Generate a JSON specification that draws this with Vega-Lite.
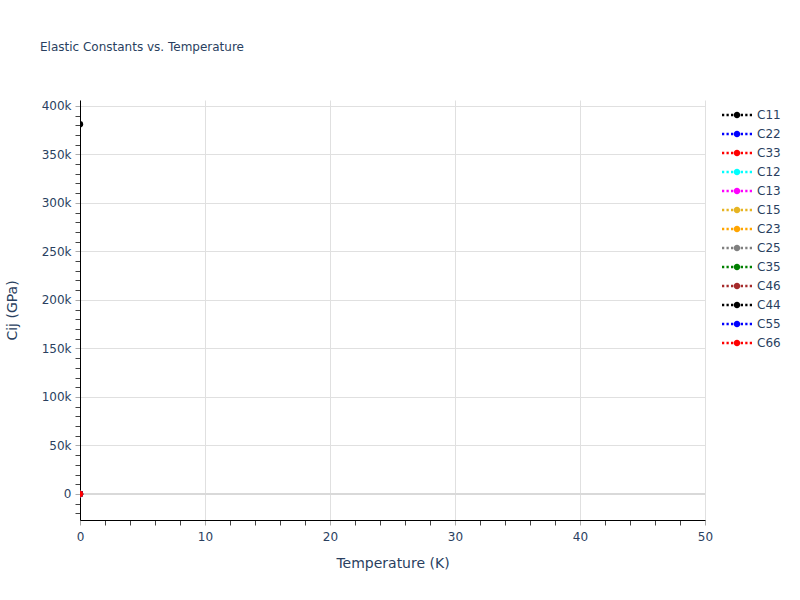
{
  "$schema": "https://vega.github.io/schema/vega-lite/v6.json",
  "width": 625,
  "height": 420,
  "autosize": "none",
  "padding": {"left": 80, "top": 100, "right": 95, "bottom": 80},
  "background": "white",
  "title": {
    "text": "Elastic Constants vs. Temperature",
    "anchor": "start",
    "frame": "group",
    "dx": -40,
    "offset": 46,
    "fontSize": 12,
    "fontWeight": "normal",
    "color": "#2a3f5f",
    "font": "DejaVu Sans"
  },
  "config": {
    "view": {"stroke": null},
    "font": "DejaVu Sans",
    "axis": {
      "labelColor": "#2a3f5f",
      "titleColor": "#2a3f5f",
      "labelFont": "DejaVu Sans",
      "titleFont": "DejaVu Sans",
      "labelFontSize": 12,
      "titleFontSize": 14,
      "titleFontWeight": "normal"
    }
  },
  "data": {
    "values": [
      {"T": 0, "comp": "C11", "Cij": 381000},
      {"T": 0, "comp": "C22", "Cij": 0},
      {"T": 0, "comp": "C33", "Cij": 0},
      {"T": 0, "comp": "C12", "Cij": 0},
      {"T": 0, "comp": "C13", "Cij": 0},
      {"T": 0, "comp": "C15", "Cij": 0},
      {"T": 0, "comp": "C23", "Cij": 0},
      {"T": 0, "comp": "C25", "Cij": 0},
      {"T": 0, "comp": "C35", "Cij": 0},
      {"T": 0, "comp": "C46", "Cij": 0},
      {"T": 0, "comp": "C44", "Cij": 0},
      {"T": 0, "comp": "C55", "Cij": 0},
      {"T": 0, "comp": "C66", "Cij": 0}
    ]
  },
  "resolve": {"axis": {"x": "independent", "y": "independent"}},
  "layer": [
    {
      "data": {"values": [{}]},
      "mark": {"type": "rule", "color": "#d9d9d9", "strokeWidth": 2},
      "encoding": {
        "y": {"datum": 0, "type": "quantitative", "axis": null}
      }
    },
    {
      "mark": {"type": "point", "opacity": 0},
      "encoding": {
        "x": {
          "field": "T",
          "type": "quantitative",
          "scale": {"domain": [0, 50], "nice": false, "zero": false},
          "axis": {
            "orient": "bottom",
            "values": [2, 4, 6, 8, 12, 14, 16, 18, 22, 24, 26, 28, 32, 34, 36, 38, 42, 44, 46, 48],
            "labels": false,
            "grid": false,
            "domain": false,
            "title": null,
            "tickSize": 5,
            "tickColor": "#444"
          }
        },
        "y": {
          "field": "Cij",
          "type": "quantitative",
          "scale": {"domain": [-26800, 406000], "nice": false, "zero": false},
          "axis": {
            "orient": "left",
            "values": [-20000, -10000, 10000, 20000, 30000, 40000, 60000, 70000, 80000, 90000, 110000, 120000, 130000, 140000, 160000, 170000, 180000, 190000, 210000, 220000, 230000, 240000, 260000, 270000, 280000, 290000, 310000, 320000, 330000, 340000, 360000, 370000, 380000, 390000],
            "labels": false,
            "grid": false,
            "domain": false,
            "title": null,
            "tickSize": 5,
            "tickColor": "#444"
          }
        }
      }
    },
    {
      "mark": {"type": "point", "filled": true, "opacity": 1, "size": 40, "clip": true},
      "encoding": {
        "x": {
          "field": "T",
          "type": "quantitative",
          "scale": {"domain": [0, 50], "nice": false, "zero": false},
          "axis": {
            "orient": "bottom",
            "values": [0, 10, 20, 30, 40, 50],
            "grid": true,
            "gridColor": "#e0e0e0",
            "gridWidth": 1,
            "domain": true,
            "domainColor": "#000000",
            "domainWidth": 1,
            "tickSize": 5,
            "tickColor": "#aaaaaa",
            "labelPadding": 6,
            "labelFlush": false,
            "title": "Temperature (K)",
            "titlePadding": 14
          }
        },
        "y": {
          "field": "Cij",
          "type": "quantitative",
          "scale": {"domain": [-26800, 406000], "nice": false, "zero": false},
          "axis": {
            "orient": "left",
            "values": [0, 50000, 100000, 150000, 200000, 250000, 300000, 350000, 400000],
            "labelExpr": "datum.value == 0 ? '0' : format(datum.value, '~s')",
            "grid": true,
            "gridColor": "#e0e0e0",
            "gridWidth": 1,
            "domain": true,
            "domainColor": "#000000",
            "domainWidth": 1,
            "tickSize": 5,
            "tickColor": "#aaaaaa",
            "labelPadding": 4,
            "labelFlush": false,
            "title": "Cij (GPa)",
            "titlePadding": 22
          }
        },
        "color": {
          "field": "comp",
          "type": "nominal",
          "scale": {
            "domain": ["C11", "C22", "C33", "C12", "C13", "C15", "C23", "C25", "C35", "C46", "C44", "C55", "C66"],
            "range": ["#000000", "#0000ff", "#ff0000", "#00ffff", "#ff00ff", "#e6b422", "#ffa500", "#808080", "#008000", "#a52a2a", "#000000", "#0000ff", "#ff0000"]
          },
          "legend": {
            "title": null,
            "orient": "none",
            "legendX": 651,
            "legendY": 9,
            "padding": 0,
            "symbolType": "M-3,-0.25H-2.55V0.25H-3Z M-2.1,-0.25H-1.65V0.25H-2.1Z M-1.2,-0.25H-0.75V0.25H-1.2Z M0.75,-0.25H1.2V0.25H0.75Z M1.65,-0.25H2.1V0.25H1.65Z M2.55,-0.25H3V0.25H2.55Z M-0.65,0A0.65,0.65 0 1,0 0.65,0A0.65,0.65 0 1,0 -0.65,0Z",
            "symbolSize": 100,
            "symbolStrokeWidth": 0,
            "symbolOpacity": 1,
            "labelOffset": 14,
            "labelFontSize": 12,
            "labelColor": "#2a3f5f",
            "labelFont": "DejaVu Sans",
            "rowPadding": 7
          }
        }
      }
    }
  ]
}
